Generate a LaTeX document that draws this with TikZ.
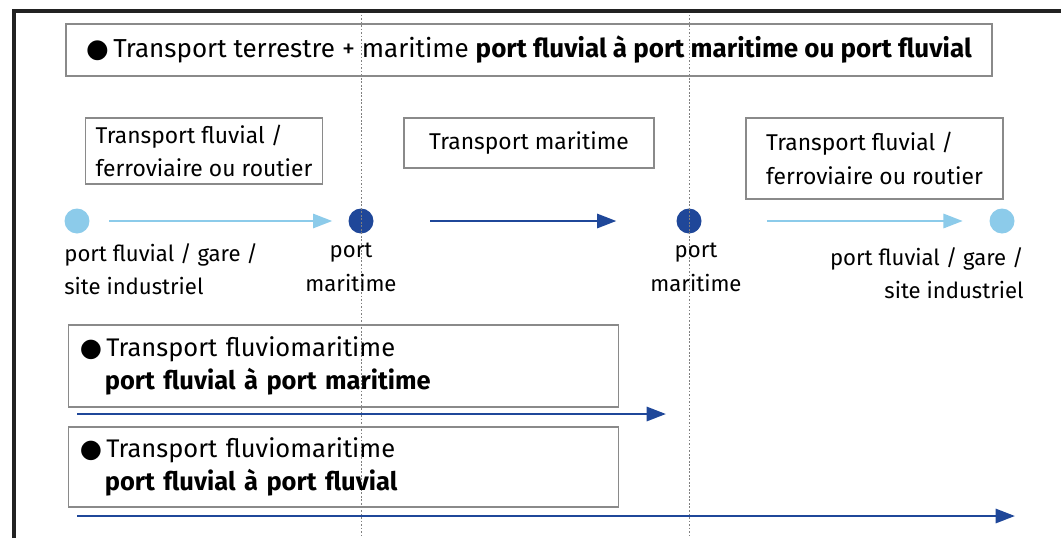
\documentclass[tikz,border=0pt]{standalone}
\usepackage{fontspec}
\setmainfont{Fira Sans}
\newfontfamily\dotfont{DejaVu Sans}
\usetikzlibrary{math, calc, arrows.meta}

\definecolor{lightblue}{HTML}{8CCBEA}
\definecolor{darkblue}{HTML}{1F4799}
\definecolor{boxgray}{HTML}{8A8A8A}
\definecolor{framegray}{HTML}{222222}

\newcommand{\blt}{{\dotfont ●}\,}

\begin{document}
\begin{tikzpicture}[x=0.02cm, y=-0.02cm,
    box/.style={draw=boxgray, line width=0.7pt, inner sep=0pt, align=left,
        font=\fontsize{13}{19}\selectfont},
    stop/.style={circle, inner sep=0pt, minimum size=0.5cm},
    place/.style={inner sep=0pt, font=\fontsize{12.6}{19}\selectfont},
    route/.style={line width=1.6pt, -{Triangle[length=11pt, width=8pt]}},
    cut/.style={densely dashed, dash pattern=on 1pt off 1pt, gray, line width=0.4pt}]
    \useasboundingbox (0, 0) rectangle (1061, 538);

    % stops
    \node [stop, fill=lightblue] (depart) at (77, 221) {};
    \node [stop, fill=darkblue] (portA) at (361, 221) {};
    \node [stop, fill=darkblue] (portB) at (689, 221) {};
    \node [stop, fill=lightblue] (arrivee) at (1002, 221) {};

    % frame and cut lines
    \coordinate (tl) at (14, 11);
    \draw [cut] (portA |- tl) -- (portA |- 0, 538);
    \draw [cut] (portB |- tl) -- (portB |- 0, 538);
    \draw [framegray, line width=1.8pt] (14, 538) -- (tl) -- (1061, 11);

    % boxes
    \node [box, minimum width=18.52cm, minimum height=1.04cm, align=center,
        font=\fontsize{14.8}{19}\selectfont] (titre) at (529, 50)
        {\blt Transport terrestre + maritime \textbf{port fluvial à port maritime ou port fluvial}};
    \node [box, minimum width=4.74cm, minimum height=1.32cm] (modeA) at (204, 151)
        {Transport fluvial /\\ferroviaire ou routier};
    \node [box, minimum width=5cm, minimum height=1cm] (modeB) at (529, 143)
        {Transport maritime};
    \node [box, minimum width=5.14cm, minimum height=1.62cm] (modeC) at (874.5, 158.5)
        {Transport fluvial /\\ferroviaire ou routier};
    \node [box, minimum width=10.98cm, minimum height=1.64cm, text width=10.55cm,
        inner xsep=0.22cm, font=\fontsize{14.5}{18.5}\selectfont] (fluvioA) at (343.5, 366)
        {\blt Transport fluviomaritime\\\hspace*{0.5cm}\textbf{port fluvial à port maritime}};
    \node [box, minimum width=10.98cm, minimum height=1.6cm, text width=10.55cm,
        inner xsep=0.22cm, font=\fontsize{14.5}{18.5}\selectfont] (fluvioB) at (343.5, 467)
        {\blt Transport fluviomaritime\\\hspace*{0.5cm}\textbf{port fluvial à port fluvial}};

    % place names
    \node [place, anchor=north west, align=left] (lieuA) at (64, 243)
        {port fluvial / gare /\\site industriel};
    \node [place, anchor=north, align=center] (lieuB) at (351, 243) {port\\maritime};
    \node [place, anchor=north, align=center] (lieuC) at (696, 243) {port\\maritime};
    \node [place, anchor=north east, align=right] (lieuD) at (1024, 247)
        {port fluvial / gare /\\site industriel};

    % routes
    \draw [route, lightblue, shorten <=11, shorten >=9] (depart) -- (portA);
    \draw [route, darkblue, shorten <=32, shorten >=34] (portA) -- (portB);
    \draw [route, lightblue, shorten <=37, shorten >=15] (portB) -- (arrivee);

    \coordinate (debutA) at (77, 414);
    \coordinate (finA) at (666, 414);
    \coordinate (debutB) at (77, 516);
    \coordinate (finB) at (1015, 516);
    \draw [route, darkblue] (debutA) -- (finA);
    \draw [route, darkblue] (debutB) -- (finB);
\end{tikzpicture}
\end{document}
